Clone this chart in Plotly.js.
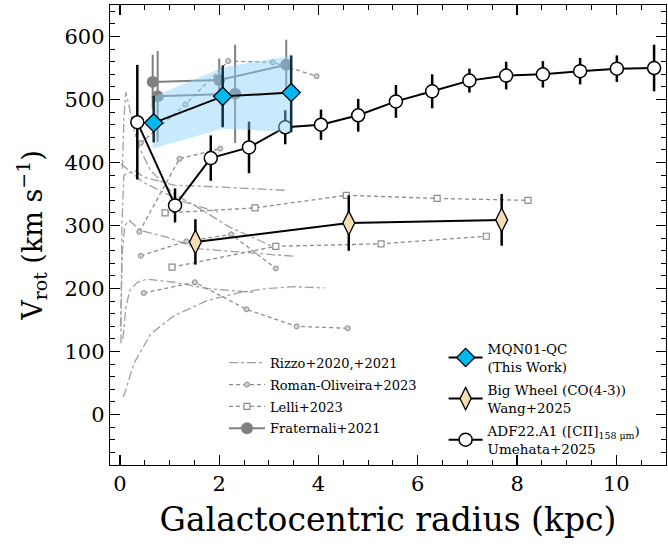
<!DOCTYPE html>
<html><head><meta charset="utf-8">
<script src="https://cdn.plot.ly/plotly-3.0.1.min.js"></script>
<style>body{margin:0;background:#fff}#c{width:668px;height:552px}</style>
</head><body><div id="c"></div>
<script>
// ---- Rizzo+2020,+2021 model curves (dash-dot) ----
const rizzo1X = [0.05, 0.08, 0.12, 0.2, 0.35, 0.62, 1.09, 1.5, 2.2, 3.04];
const rizzo1Y = [390, 470, 512, 485, 430, 387, 350, 332, 298, 268];
const rizzo2X = [0.02, 0.04, 0.08, 0.3, 0.48, 1.09, 1.76, 2.77, 3.32];
const rizzo2Y = [113, 300, 380, 387, 377, 364, 362, 358, 356];
const rizzo3X = [0.02, 0.46, 1.2, 1.97];
const rizzo3Y = [398, 369, 340, 321];
const rizzo4X = [0.01, 0.05, 0.1, 0.19, 0.42, 0.93, 1.6, 2.97, 3.55];
const rizzo4Y = [139, 260, 300, 308, 292, 282, 263, 255, 251];
const rizzo5X = [0.06, 0.12, 0.2, 0.35, 0.55, 1.09, 1.76, 2.7];
const rizzo5Y = [120, 170, 197, 210, 215, 210, 200, 194];
const rizzo6X = [0.07, 0.28, 0.62, 1.09, 1.76, 2.43, 2.97, 3.5, 4.12];
const rizzo6Y = [28, 81, 128, 157, 181, 194, 200, 203, 201];

// ---- Roman-Oliveira+2023 (dashed, small circles) ----
const roman1X = [0.42, 1.32, 2.18, 3.08, 3.96];
const roman1Y = [431, 492, 561, 559, 537];
const roman2X = [0.39, 1.20, 2.02];
const roman2Y = [290, 406, 422];
const roman3X = [0.42, 1.34, 2.24, 3.14];
const roman3Y = [252, 275, 286, 232];
const roman4X = [0.48, 1.51, 2.55, 3.56, 4.59];
const roman4Y = [193, 210, 167, 140, 137];

// ---- Lelli+2023 (dashed, open squares) ----
const lelli1X = [0.91, 2.72, 4.56, 6.39, 8.22];
const lelli1Y = [320, 328, 348, 343, 340];
const lelli2X = [1.05, 3.14, 5.26, 7.38];
const lelli2Y = [234, 267, 271, 283];

// ---- Fraternali+2021 ----
const frat1X = [0.66, 2.00, 3.35];
const frat1Y = [528, 531, 555];
const frat1Err = [43, 34, 40];
const frat2X = [0.76, 2.32];
const frat2Y = [505, 509];
const frat2Err = [72, 78];

// ---- ADF22.A1 Umehata+2025 ----
const umeX = [0.35, 1.11, 1.83, 2.60, 3.33, 4.05, 4.80, 5.56, 6.29, 7.04, 7.78, 8.52, 9.27, 10.01, 10.76];
const umeY = [464, 332, 407, 424, 456, 460, 475, 497, 513, 530, 538, 540, 545, 549, 550];
const umeErr = [91, 27, 36, 41, 27, 24, 26, 26, 27, 19, 22, 21, 21, 21, 37];

// ---- MQN01-QC (This Work) ----
const mqnX = [0.68, 2.07, 3.45];
const mqnY = [463, 505, 511];
const mqnErrUp = [43, 49, 59];
const mqnErrDn = [31, 49, 63];
const bandX = [0.66, 2.07, 3.45, 3.45, 2.07, 0.66];
const bandY = [504, 551, 570, 448, 454, 422];

// ---- Big Wheel Wang+2025 ----
const bwX = [1.52, 4.61, 7.69];
const bwY = [274, 304, 309];
const bwErr = [36, 44, 41];

function join(xs) { const o = []; xs.forEach((a, i) => { if (i) o.push(null); o.push(...a); }); return o; }

const GREY = '#8c8c8c';
const traces = [];
traces.push({
  x: join([rizzo1X, rizzo2X, rizzo3X, rizzo4X, rizzo5X, rizzo6X]),
  y: join([rizzo1Y, rizzo2Y, rizzo3Y, rizzo4Y, rizzo5Y, rizzo6Y]),
  mode: 'lines', name: 'Rizzo+2020,+2021', line: {color: '#a0a0a0', width: 1.3, dash: 'dashdot'},
  legend: 'legend', legendrank: 1, legendgroup: 'r1'
});
traces.push({
  x: join([roman1X, roman2X, roman3X, roman4X]),
  y: join([roman1Y, roman2Y, roman3Y, roman4Y]),
  mode: 'lines+markers', name: 'Roman-Oliveira+2023',
  line: {color: GREY, width: 1.3, dash: '4px,3px'},
  marker: {symbol: 'circle', size: 5, color: '#d0d0d0', line: {color: GREY, width: 1}},
  legend: 'legend', legendrank: 2, legendgroup: 'r2'
});
traces.push({
  x: join([lelli1X, lelli2X]), y: join([lelli1Y, lelli2Y]),
  mode: 'lines+markers', name: 'Lelli+2023',
  line: {color: GREY, width: 1.3, dash: '4px,3px'},
  marker: {symbol: 'square', size: 6, color: '#ffffff', line: {color: GREY, width: 1.2}},
  legend: 'legend', legendrank: 3, legendgroup: 'r3'
});
traces.push({
  x: join([frat1X, frat2X]), y: join([frat1Y, frat2Y]),
  mode: 'lines+markers', name: 'Fraternali+2021',
  line: {color: '#808080', width: 2},
  marker: {symbol: 'circle', size: 12, color: '#808080'},
  error_y: {type: 'data', array: join([frat1Err, frat2Err]), color: '#808080', thickness: 2, width: 0},
  legend: 'legend', legendrank: 4, legendgroup: 'r4'
});
traces.push({
  x: umeX, y: umeY, mode: 'lines+markers',
  name: 'ADF22.A1 ([CII]<sub>158 μm</sub>)<br>Umehata+2025',
  line: {color: '#000', width: 2},
  marker: {symbol: 'circle', size: 13, color: '#fff', line: {color: '#000', width: 1.5}},
  error_y: {type: 'data', array: umeErr, color: '#000', thickness: 2.5, width: 0},
  legend: 'legend2', legendrank: 3, legendgroup: 'c'
});
traces.push({
  x: bandX, y: bandY, mode: 'lines', fill: 'toself', fillcolor: 'rgba(135,206,250,0.45)',
  line: {width: 0}, showlegend: false, hoverinfo: 'skip'
});
traces.push({
  x: mqnX, y: mqnY, mode: 'lines+markers', name: 'MQN01-QC<br>(This Work)',
  line: {color: '#000', width: 2},
  marker: {symbol: 'diamond', size: 14, color: '#00b8f0', line: {color: '#000', width: 1.3}},
  error_y: {type: 'data', array: mqnErrUp, arrayminus: mqnErrDn, color: '#10303c', thickness: 2.5, width: 0},
  legend: 'legend2', legendrank: 1, legendgroup: 'a'
});
traces.push({
  x: bwX, y: bwY, mode: 'lines+markers', name: 'Big Wheel (CO(4-3))<br>Wang+2025',
  line: {color: '#000', width: 2},
  marker: {symbol: 'diamond-tall', size: 17, color: '#f5deb3', line: {color: '#000', width: 1.3}},
  error_y: {type: 'data', array: bwErr, color: '#000', thickness: 2.5, width: 0},
  legend: 'legend2', legendrank: 2, legendgroup: 'b'
});

const FONT = 'DejaVu Serif, Liberation Serif, serif';
const axBase = {
  showline: true, linecolor: '#000', linewidth: 1.2, mirror: 'allticks',
  ticks: 'inside', ticklen: 10, tickwidth: 1.2, tickcolor: '#000',
  showgrid: false, zeroline: false, tickfont: {family: FONT, size: 21, color: '#000'}
};
const layout = {
  width: 668, height: 552, paper_bgcolor: '#fff', plot_bgcolor: '#fff',
  margin: {l: 110, r: 2, t: 5, b: 87},
  font: {family: FONT, color: '#000'},
  xaxis: Object.assign({}, axBase, {
    range: [-0.2, 11.0], tick0: 0, dtick: 2,
    minor: {dtick: 0.5, ticklen: 5, ticks: 'inside', tickcolor: '#000', tickwidth: 1},
    title: {text: 'Galactocentric radius (kpc)', font: {family: FONT, size: 33}, standoff: 12}
  }),
  yaxis: Object.assign({}, axBase, {
    range: [-80, 650], tick0: 0, dtick: 100,
    minor: {dtick: 20, ticklen: 5, ticks: 'inside', tickcolor: '#000', tickwidth: 1},
    title: {text: 'V<sub>rot</sub> (km s<sup>−1</sup>)', font: {family: FONT, size: 27}, standoff: 14}
  }),
  legend: {x: 0.205, y: 0.255, xanchor: 'left', yanchor: 'top', bgcolor: 'rgba(0,0,0,0)',
    font: {family: FONT, size: 13}, tracegroupgap: 2, traceorder: 'grouped', itemwidth: 36},
  legend2: {x: 0.6, y: 0.286, xanchor: 'left', yanchor: 'top', bgcolor: 'rgba(0,0,0,0)',
    font: {family: FONT, size: 13.5}, tracegroupgap: 3, traceorder: 'grouped', itemwidth: 34},
  showlegend: true
};
Plotly.newPlot('c', traces, layout, {staticPlot: true, displayModeBar: false});
</script></body></html>
